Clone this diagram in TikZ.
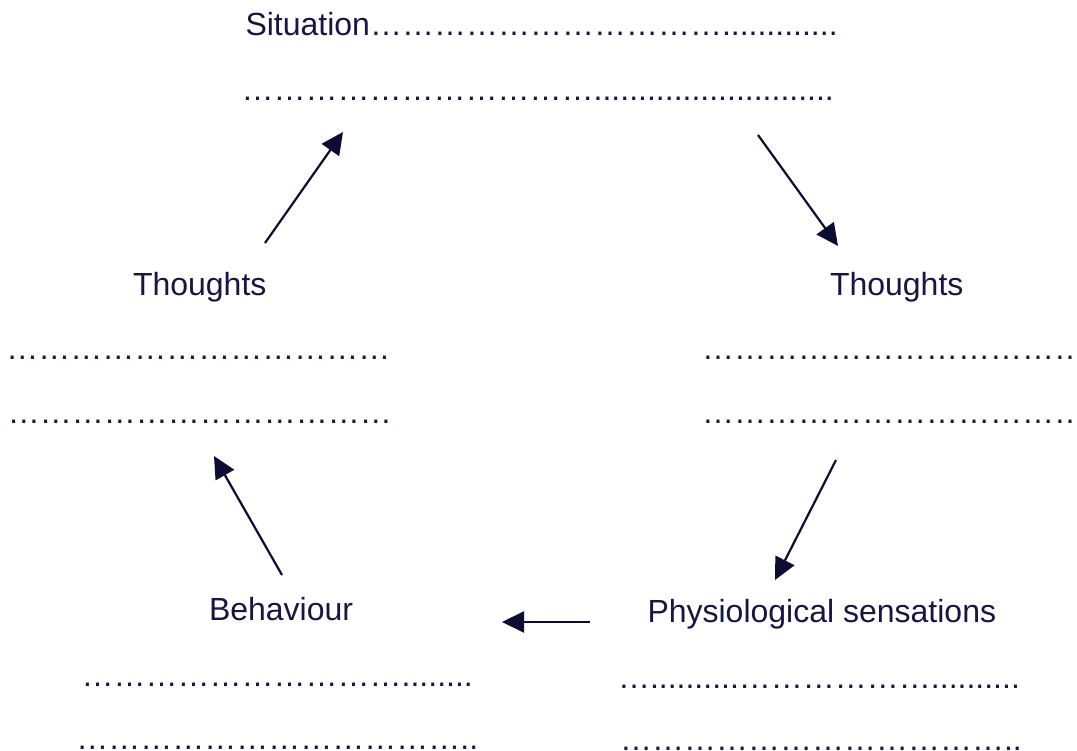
\documentclass[tikz,border=0pt]{standalone}
\usepackage{fontspec}
\setmainfont{Liberation Sans}
\usetikzlibrary{arrows.meta}
\definecolor{navy}{RGB}{22,22,68}
\definecolor{arrownavy}{RGB}{12,12,52}
\newcommand{\ells}[1]{\foreach \k in {1,...,#1}{…}}
\newcommand{\pers}[1]{\foreach \k in {1,...,#1}{.}}
\begin{document}
\begin{tikzpicture}[x=1pt,y=-1pt,
  lbl/.style={anchor=base west,inner sep=0pt,outer sep=0pt,text=navy,
    font=\fontsize{32}{36}\selectfont},
  conn/.style={draw=arrownavy,line width=2.2pt,
    -{Triangle[length=22pt,width=21pt]}}]
\useasboundingbox (0,0) rectangle (1077,751);
% top
\node[lbl] (sit)  at (245.5,36) {Situation\ells{11}\pers{13}};
\node[lbl] (sit2) at (241.7,101) {\ells{11}\pers{27}};
% left thoughts
\node[lbl] (thL)  at (133,296) {Thoughts};
\node[lbl] (thL1) at (6.4,360) {\ells{12}};
\node[lbl] (thL2) at (8,424) {\ells{12}};
% right thoughts
\node[lbl] (thR)  at (830,296) {Thoughts};
\node[lbl] (thR1) at (702,360) {\ells{12}};
\node[lbl] (thR2) at (702,424) {\ells{12}};
% behaviour
\node[lbl] (beh)  at (209,620) {Behaviour};
\node[lbl] (beh1) at (81.7,686) {\ells{10}\pers{8}};
\node[lbl] (beh2) at (76.4,749) {\ells{12}\pers{2}};
% physiological
\node[lbl] (phy)  at (647.5,622) {Physiological sensations};
\node[lbl] (phy1) at (618,688) {\ells{1}\pers{10}\ells{6}\pers{10}};
\node[lbl] (phy2) at (620,750.5) {\ells{12}\pers{2}};
% arrow end points
\coordinate (a1s) at (265,243);
\coordinate (a1e) at (343,132);
\coordinate (a2s) at (758,135);
\coordinate (a2e) at (838,246);
\coordinate (a3s) at (836,460);
\coordinate (a3e) at (775,580);
\coordinate (a4s) at (590,622);
\coordinate (a4e) at (502,622);
\coordinate (a5s) at (282,575);
\coordinate (a5e) at (214,456);
\draw[conn] (a1s) -- (a1e);
\draw[conn] (a2s) -- (a2e);
\draw[conn] (a3s) -- (a3e);
\draw[conn] (a4s) -- (a4e);
\draw[conn] (a5s) -- (a5e);
\end{tikzpicture}
\end{document}
